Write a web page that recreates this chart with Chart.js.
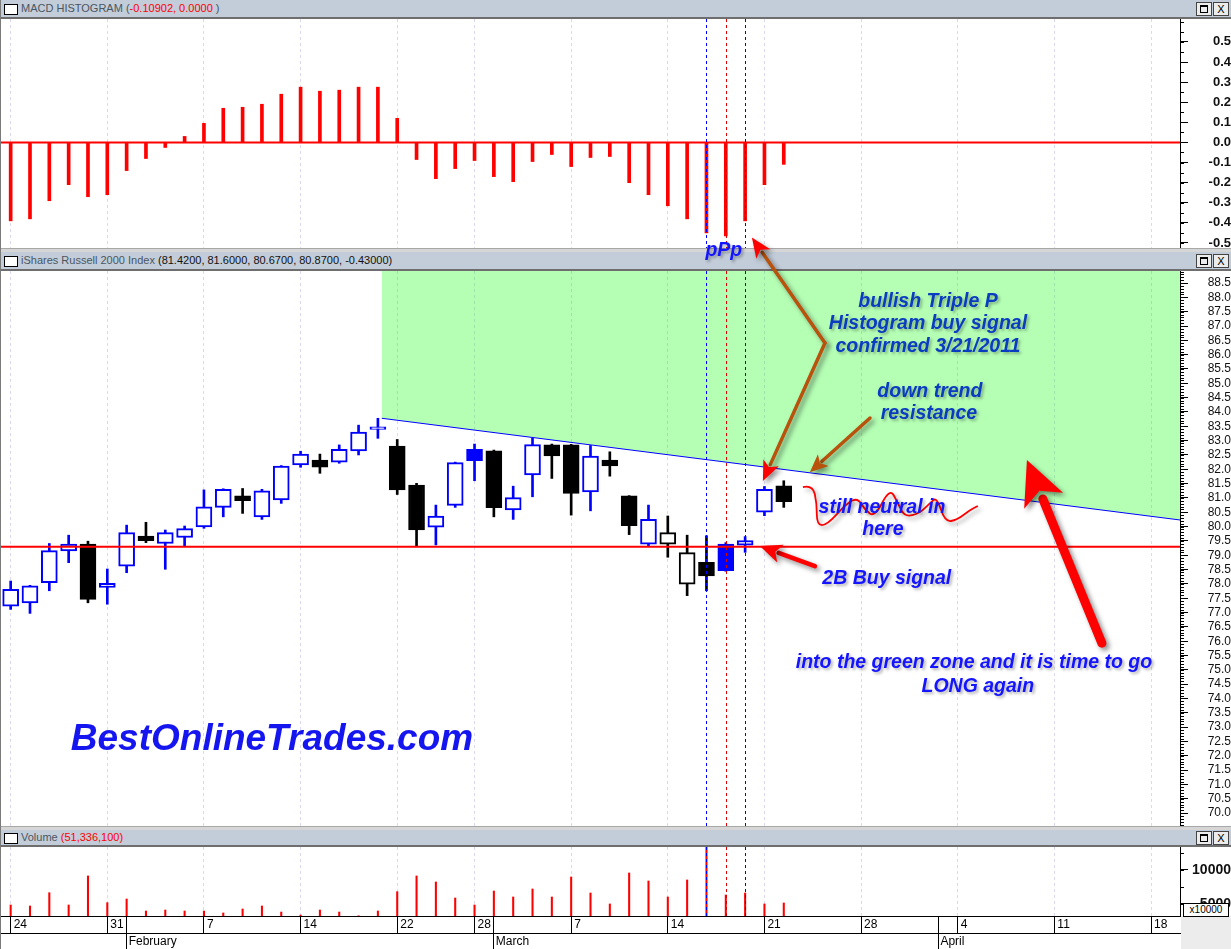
<!DOCTYPE html>
<html>
<head>
<meta charset="utf-8">
<title>iShares Russell 2000 - MACD Histogram</title>
<script src="https://cdn.jsdelivr.net/npm/chart.js@4.4.1/dist/chart.umd.min.js"></script>
<style>
  body { margin: 0; background: #fff; font-family: "Liberation Sans", Arial, sans-serif; }
  #tela { position: relative; width: 1231px; height: 949px; overflow: hidden; background: #fff; }
  #tela::before { content: ''; position: absolute; left: 0; top: 0; width: 1px; height: 949px; background: #7a7a7a; z-index: 3; }
  .barra { position: absolute; left: 0; width: 1231px; height: 17px; background: #c2cdd9; border-bottom: 2px solid #6e6e6e; font-size: 11px; line-height: 17px; color: #4b5661; }
  .barra .ic { position: absolute; left: 4px; top: 4px; width: 12px; height: 9px; border: 1px solid #000; background: #fff; }
  .barra .tt { position: absolute; left: 21px; top: 0; white-space: nowrap; }
  .barra .bt { position: absolute; top: 2px; width: 14px; height: 12px; border: 1px solid #444; background: #ececec; font-size: 11px; line-height: 12px; text-align: center; color: #000; }
  .barra .bt .q { position: absolute; left: 3px; top: 2px; width: 6px; height: 5px; border: 1px solid #000; border-top-width: 2px; }
  .sep { position: absolute; left: 0; width: 1231px; height: 3px; background: #d6d6d6; border-top: 1px solid #a8a8a8; }
  canvas { position: absolute; left: 1px; }
  .vermelho { color: #ff0000; }
  .escuro { color: #111; }
  #canto { position: absolute; left: 1181px; top: 916px; width: 50px; height: 33px; background: #ececec; }
  #escala { position: absolute; left: 1183px; top: 903px; width: 44px; height: 12px; border: 1px solid #000; background: #fff; font-size: 10px; line-height: 12px; text-align: center; z-index: 5; }
  #notas { left: 0; top: 0; z-index: 10; pointer-events: none; }
</style>
</head>
<body>
<div id="tela">
  <div class="barra" style="top:0">
    <div class="ic"></div>
    <div class="tt">MACD HISTOGRAM (<span class="vermelho">-0.10902, 0.0000</span> )</div>
    <div class="bt" style="left:1196px"><div class="q"></div></div>
    <div class="bt" style="left:1213px">X</div>
  </div>
  <canvas id="cMacd" width="1230" height="229" style="top:19px"></canvas>
  <div class="sep" style="top:248px"></div>

  <div class="barra" style="top:252px">
    <div class="ic"></div>
    <div class="tt">iShares Russell 2000 Index <span class="escuro">(81.4200, 81.6000, 80.6700, 80.8700, -0.43000)</span></div>
    <div class="bt" style="left:1196px"><div class="q"></div></div>
    <div class="bt" style="left:1213px">X</div>
  </div>
  <canvas id="cPreco" width="1230" height="555" style="top:271px"></canvas>
  <div class="sep" style="top:826px"></div>

  <div class="barra" style="top:830px; height:15px; line-height:15px">
    <div class="ic" style="top:3px"></div>
    <div class="tt">Volume <span class="vermelho">(51,336,100)</span></div>
    <div class="bt" style="left:1196px; top:1px"><div class="q"></div></div>
    <div class="bt" style="left:1213px; top:1px">X</div>
  </div>
  <div id="canto"></div>
  <canvas id="cVol" width="1230" height="102" style="top:847px"></canvas>
  <div id="escala">x10000</div>

  <canvas id="notas" width="1231" height="949"></canvas>
</div>

<script>
// ====== DADOS ======
// eixo de tempo: um slot por pregao (24/jan ate 19/abr 2011)
const semanaTicks = [0, 5, 10, 15, 20, 24, 29, 34, 39, 44, 49, 54, 59];
const semanaLabels = ['24', '31', '7', '14', '22', '28', '7', '14', '21', '28', '4', '11', '18'];
const mesTicks = [6, 25, 48];
const mesLabels = ['February', 'March', 'April'];

const abertura = [77.22, 77.34, 78.04, 79.15, 79.39, 77.88, 78.62, 79.67, 79.41, 79.62,
  79.99, 80.67, 81.07, 80.34, 80.93, 82.15, 82.32, 82.25, 82.64, 83.39,
  82.81, 81.45, 79.98, 80.74, 82.70, 82.64, 80.58, 81.80, 82.85, 82.85,
  81.21, 82.32, 81.07, 79.39, 79.39, 77.99, 78.75, 79.39, 79.35, 80.50, 81.42];
const maxima = [78.10, 77.95, 79.41, 79.70, 79.49, 78.52, 80.05, 80.15, 79.88, 80.02,
  81.28, 81.32, 81.33, 81.30, 82.13, 82.63, 82.53, 82.85, 83.54, 83.78,
  83.04, 81.51, 80.75, 82.25, 82.88, 82.67, 81.41, 83.08, 82.88, 82.87,
  82.83, 82.61, 81.08, 80.75, 80.37, 79.70, 79.68, 79.44, 79.65, 81.40, 81.60];
const minima = [77.11, 76.97, 77.76, 78.74, 77.34, 77.29, 78.39, 79.44, 78.51, 79.32,
  79.94, 80.34, 80.46, 80.25, 80.81, 82.07, 81.86, 82.21, 82.50, 83.08,
  81.12, 79.30, 79.36, 80.67, 81.60, 80.34, 80.25, 81.04, 81.68, 80.40,
  80.55, 81.76, 79.72, 79.33, 78.93, 77.59, 77.76, 78.44, 79.10, 80.38, 80.67];
const fechamento = [77.81, 77.93, 79.16, 79.39, 77.46, 78.02, 79.79, 79.51, 79.79, 79.93,
  80.69, 81.30, 80.90, 81.25, 82.11, 82.53, 82.07, 82.70, 83.30, 83.48,
  81.28, 79.88, 80.37, 82.23, 82.30, 80.66, 81.01, 82.86, 82.47, 81.16,
  82.46, 82.12, 80.03, 80.25, 79.79, 79.09, 78.28, 78.46, 79.51, 81.30, 80.87];

const macdHist = [-0.39, -0.38, -0.29, -0.21, -0.27, -0.26, -0.14, -0.08, -0.025, 0.03,
  0.095, 0.17, 0.175, 0.19, 0.24, 0.275, 0.255, 0.26, 0.275, 0.275,
  0.12, -0.085, -0.18, -0.13, -0.09, -0.17, -0.195, -0.095, -0.06, -0.12,
  -0.075, -0.07, -0.2, -0.26, -0.315, -0.38, -0.45, -0.465, -0.39, -0.21, -0.109];

// volume em unidades de 10000
const volume = [4840, 4690, 6650, 4840, 9120, 5180, 5720, 3950, 4100, 3950,
  3950, 3660, 4250, 4690, 3800, 3360, 4100, 3800, 3250, 3950,
  6800, 9120, 8230, 5870, 4840, 6900, 6020, 7200, 6020, 8970,
  6610, 4990, 9560, 8380, 6020, 8530, 15200, 6310, 6610, 4990, 5134];

const tendenciaX = [19.2, 60.5];
const tendenciaY = [83.78, 80.23];
const suporte = 79.30;
const diasSinal = [36, 37, 38];
const coresSinal = ['#0000ff', '#dd0000', '#0000ff'];

const macdTicks = [-0.5, -0.4, -0.3, -0.2, -0.1, 0, 0.1, 0.2, 0.3, 0.4, 0.5];
const precoTicks = Array.from({ length: 38 }, (_, i) => 70 + i * 0.5);
const volumeTicks = [5000, 10000];

// ====== CONFIG COMUM ======
Chart.defaults.font.family = '"Liberation Sans", Arial, sans-serif';
const corGrade = '#dcd8f0';
const idx = abertura.map((_, i) => i);
const ticksData = semanaTicks.concat(mesTicks).sort((a, b) => a - b);

function corCandle(i) {
  const ant = i > 0 ? fechamento[i - 1] : abertura[i];
  return fechamento[i] >= ant ? '#0000ff' : '#000000';
}
const cheio = i => fechamento[i] < abertura[i];

const minorTicks = {
  id: 'minorTicks',
  afterDraw(chart, args, opts) {
    if (!opts.passo) return;
    const s = chart.scales.y, ctx = chart.ctx;
    ctx.save();
    ctx.strokeStyle = '#000';
    ctx.lineWidth = 1;
    ctx.beginPath();
    for (let k = Math.ceil(s.min / opts.passo); k * opts.passo <= s.max; k++) {
      const py = Math.round(s.getPixelForValue(k * opts.passo)) + 0.5;
      ctx.moveTo(s.left, py);
      ctx.lineTo(s.left + 4, py);
    }
    ctx.stroke();
    ctx.restore();
  }
};

const linhasSinal = {
  id: 'linhasSinal',
  afterDatasetsDraw(chart) {
    const { ctx, chartArea: a, scales: { x } } = chart;
    ctx.save();
    ctx.lineWidth = 1;
    ctx.setLineDash([3, 3]);
    diasSinal.forEach((d, i) => {
      const px = Math.round(x.getPixelForValue(d)) + 0.5;
      ctx.strokeStyle = coresSinal[i];
      ctx.beginPath();
      ctx.moveTo(px, a.top);
      ctx.lineTo(px, a.bottom);
      ctx.stroke();
    });
    ctx.restore();
  }
};

function opcoesBase(passoMenor) {
  return {
    responsive: false,
    animation: false,
    events: [],
    layout: { padding: 0 },
    plugins: { legend: { display: false }, tooltip: { enabled: false }, minorTicks: { passo: passoMenor } }
  };
}

function eixoXOculto() {
  return {
    type: 'linear', min: -0.5, max: 60.5, offset: false,
    afterBuildTicks: s => { s.ticks = semanaTicks.map(v => ({ value: v })); },
    ticks: { display: false },
    grid: { color: corGrade, drawTicks: false, offset: false, borderDash: [3, 3] },
    border: { display: false, dash: [3, 3] }
  };
}

function eixoY(min, max, lista, fmt, fonte, pad) {
  return {
    position: 'right', min, max,
    afterBuildTicks: s => { s.ticks = lista.map(v => ({ value: v })); },
    afterFit: s => { s.width = 51; s.paddingTop = 0; s.paddingBottom = 0; },
    ticks: { callback: fmt, color: '#111', font: fonte, crossAlign: 'far', padding: pad, autoSkip: false },
    grid: { drawOnChartArea: false, tickLength: 8, tickColor: '#000', tickWidth: 1 },
    border: { display: true, color: '#000', width: 1 }
  };
}

// ====== MACD ======
const macdChart = new Chart(document.getElementById('cMacd'), {
  type: 'bar',
  data: {
    datasets: [
      { type: 'bar', data: idx.map(i => ({ x: i, y: macdHist[i] })), backgroundColor: '#ff0000', barThickness: 3, order: 1 },
      { type: 'line', data: [{ x: -0.5, y: 0 }, { x: 60.5, y: 0 }], borderColor: '#ff0000', borderWidth: 2, pointRadius: 0, order: 0 }
    ]
  },
  options: {
    ...opcoesBase(0.05),
    scales: {
      x: eixoXOculto(),
      y: eixoY(-0.525, 0.614, macdTicks, v => v.toFixed(1), { size: 13, weight: 'bold' }, 17)
    }
  },
  plugins: [minorTicks, linhasSinal]
});

// ====== PRECO ======
const precoChart = new Chart(document.getElementById('cPreco'), {
  type: 'bar',
  data: {
    datasets: [
      {
        type: 'bar', label: 'corpo',
        data: idx.map(i => ({ x: i, y: [abertura[i], fechamento[i]] })),
        backgroundColor: idx.map(i => cheio(i) ? corCandle(i) : '#ffffff'),
        borderColor: idx.map(corCandle),
        borderWidth: 2, borderSkipped: false, barThickness: 16, grouped: false, order: 1
      },
      {
        type: 'bar', label: 'pavio',
        data: idx.map(i => ({ x: i, y: [minima[i], maxima[i]] })),
        backgroundColor: idx.map(corCandle),
        barThickness: 2, grouped: false, order: 2
      },
      {
        type: 'line', label: 'suporte',
        data: [{ x: -0.5, y: suporte }, { x: 60.5, y: suporte }],
        borderColor: '#ff0000', borderWidth: 2, pointRadius: 0, order: 0
      },
      {
        type: 'line', label: 'tendencia',
        data: tendenciaX.map((x, i) => ({ x, y: tendenciaY[i] })),
        borderColor: '#0000ff', borderWidth: 1, pointRadius: 0,
        fill: 'end', backgroundColor: 'rgba(0,255,0,0.29)', order: 3
      }
    ]
  },
  options: {
    ...opcoesBase(0.1),
    scales: {
      x: eixoXOculto(),
      y: eixoY(69.55, 88.92, precoTicks, v => v.toFixed(1), { size: 12 }, 16)
    }
  },
  plugins: [minorTicks, linhasSinal]
});

// ====== VOLUME ======
const volChart = new Chart(document.getElementById('cVol'), {
  type: 'bar',
  data: {
    datasets: [
      { data: idx.map(i => ({ x: i, y: volume[i] })), backgroundColor: '#ff0000', barThickness: 1.4 }
    ]
  },
  options: {
    ...opcoesBase(2500),
    scales: {
      x: {
        type: 'linear', min: -0.5, max: 60.5, offset: false, weight: 0,
        afterBuildTicks: s => { s.ticks = ticksData.map(v => ({ value: v })); },
        afterFit: s => { s.height = 17; s.paddingLeft = 0; s.paddingRight = 0; },
        ticks: {
          autoSkip: false, maxRotation: 0, minRotation: 0, align: 'start', labelOffset: 3, padding: -16,
          color: '#000', font: { size: 12 },
          callback: v => { const k = semanaTicks.indexOf(v); return k >= 0 ? semanaLabels[k] : ''; }
        },
        grid: {
          color: c => (c.tick && semanaTicks.includes(c.tick.value)) ? corGrade : 'rgba(0,0,0,0)',
          borderDash: [3, 3], tickLength: 17, tickColor: '#000', tickBorderDash: [], offset: false
        },
        border: { display: true, color: '#000', dash: [3, 3] }
      },
      x2: {
        type: 'linear', axis: 'x', position: 'bottom', min: -0.5, max: 60.5, offset: false, weight: 1,
        afterBuildTicks: s => { s.ticks = mesTicks.map(v => ({ value: v })); },
        afterFit: s => { s.height = 16; s.paddingLeft = 0; s.paddingRight = 0; },
        ticks: {
          autoSkip: false, maxRotation: 0, minRotation: 0, align: 'start', labelOffset: 2, padding: -15,
          color: '#000', font: { size: 12 },
          callback: v => mesLabels[mesTicks.indexOf(v)]
        },
        grid: { drawOnChartArea: false, tickLength: 16, tickColor: '#000', offset: false },
        border: { display: true, color: '#000' }
      },
      y: eixoY(3215, 13390, volumeTicks, v => String(v), { size: 14, weight: 'bold' }, 1)
    }
  },
  plugins: [minorTicks, linhasSinal]
});

// ====== ANOTACOES ======
const textosPreco = [
  ['bullish Triple P', 47.46, 87.84, '#0a3cc2'],
  ['Histogram buy signal', 47.46, 87.07, '#0a3cc2'],
  ['confirmed 3/21/2011', 47.46, 86.27, '#0a3cc2'],
  ['down trend', 47.56, 84.70, '#0a3cc2'],
  ['resistance', 47.51, 83.93, '#0a3cc2'],
  ['still neutral in', 45.08, 80.65, '#1414ff'],
  ['here', 45.13, 79.88, '#1414ff'],
  ['2B Buy signal', 45.33, 78.20, '#1414ff'],
  ['into the green zone and it is time to go', 49.84, 75.24, '#1414ff'],
  ['LONG again', 50.04, 74.43, '#1414ff']
];
const rabiscoX = [40.99, 41.50, 41.71, 41.71, 42.23, 43.27, 43.83, 44.20, 44.71, 45.49,
  45.90, 46.27, 47.04, 47.56, 47.92, 48.34, 48.96, 49.63, 50.04];
const rabiscoY = [81.38, 81.45, 80.82, 80.05, 80.05, 80.82, 81.00, 80.58, 80.33, 81.35,
  80.82, 80.33, 80.47, 80.82, 81.03, 80.16, 80.23, 80.58, 80.72];

const marrom = '#b8520c';
const setas = [
  // [grafico origem, x, y, grafico destino, x, y, cor haste, cor ponta, largura, comprimento ponta, abertura ponta]
  [precoChart, 42.13, 86.41, macdChart, 38.35, -0.473, marrom, '#ff0000', 3.5, 20, 17],
  [precoChart, 42.13, 86.41, precoChart, 38.92, 81.59, marrom, '#ff0000', 3.5, 20, 17],
  [precoChart, 44.46, 83.79, precoChart, 41.35, 81.90, marrom, marrom, 3.5, 18, 16],
  [precoChart, 41.61, 78.62, precoChart, 38.76, 79.32, '#ff0000', '#ff0000', 4.5, 22, 19],
  [precoChart, 56.46, 75.93, precoChart, 52.58, 82.32, '#ff0000', '#ff0000', 9, 44, 42]
];

const ctx = document.getElementById('notas').getContext('2d');

function ponto(chart, xv, yv) {
  const c = chart.canvas;
  return [c.offsetLeft + chart.scales.x.getPixelForValue(xv), c.offsetTop + chart.scales.y.getPixelForValue(yv)];
}

function sombra(alpha, blur, off) {
  ctx.shadowColor = `rgba(0,0,0,${alpha})`;
  ctx.shadowBlur = blur;
  ctx.shadowOffsetX = off;
  ctx.shadowOffsetY = off;
}

function seta(de, para, cor, corPonta, larg, comp, abert) {
  const [x1, y1] = de, [x2, y2] = para;
  const ang = Math.atan2(y2 - y1, x2 - x1);
  const c = Math.cos(ang), s = Math.sin(ang);
  const bx = x2 - comp * c, by = y2 - comp * s;
  ctx.save();
  sombra(0.45, 5, 3);
  ctx.strokeStyle = cor;
  ctx.lineWidth = larg;
  ctx.lineCap = 'round';
  ctx.beginPath();
  ctx.moveTo(x1, y1);
  ctx.lineTo(bx + 2 * c, by + 2 * s);
  ctx.stroke();
  ctx.fillStyle = corPonta;
  ctx.beginPath();
  ctx.moveTo(x2, y2);
  ctx.lineTo(bx + (abert / 2) * s, by - (abert / 2) * c);
  ctx.lineTo(bx + 0.25 * comp * c, by + 0.25 * comp * s);
  ctx.lineTo(bx - (abert / 2) * s, by + (abert / 2) * c);
  ctx.closePath();
  ctx.fill();
  ctx.restore();
}

// rabisco vermelho
ctx.save();
sombra(0.35, 4, 3);
ctx.strokeStyle = '#ff0000';
ctx.lineWidth = 1.8;
ctx.lineJoin = 'round';
ctx.beginPath();
const pts = rabiscoX.map((x, i) => ponto(precoChart, x, rabiscoY[i]));
ctx.moveTo(pts[0][0], pts[0][1]);
for (let i = 1; i < pts.length - 1; i++) {
  const mx = (pts[i][0] + pts[i + 1][0]) / 2, my = (pts[i][1] + pts[i + 1][1]) / 2;
  ctx.quadraticCurveTo(pts[i][0], pts[i][1], mx, my);
}
ctx.lineTo(pts[pts.length - 1][0], pts[pts.length - 1][1]);
ctx.stroke();
ctx.restore();

setas.forEach(a => seta(ponto(a[0], a[1], a[2]), ponto(a[3], a[4], a[5]), a[6], a[7], a[8], a[9], a[10]));

// textos
ctx.save();
ctx.textAlign = 'center';
ctx.textBaseline = 'middle';
ctx.font = 'italic bold 19.5px "Liberation Sans", Arial, sans-serif';
sombra(0.3, 3, 2);
textosPreco.forEach(([t, x, y, cor]) => {
  const [px, py] = ponto(precoChart, x, y);
  ctx.fillStyle = cor;
  ctx.fillText(t, px, py);
});
const [ppx, ppy] = ponto(macdChart, 36.9, -0.54);
ctx.fillStyle = '#1414ff';
ctx.fillText('pPp', ppx, ppy);
ctx.restore();

ctx.save();
ctx.textAlign = 'center';
ctx.textBaseline = 'middle';
ctx.font = 'italic bold 37px "Liberation Sans", Arial, sans-serif';
ctx.fillStyle = '#1515f0';
const [wx, wy] = ponto(precoChart, 13.52, 72.55);
ctx.fillText('BestOnlineTrades.com', wx, wy);
ctx.restore();
</script>
</body>
</html>
